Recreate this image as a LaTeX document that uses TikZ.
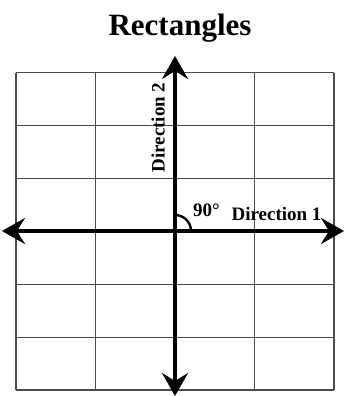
\documentclass[tikz,border=0pt]{standalone}
\usepackage{fontspec}
\setmainfont{Liberation Serif}
\usetikzlibrary{arrows.meta}

\begin{document}
\begin{tikzpicture}[x=1pt,y=1pt,>={Stealth[length=23pt,width=26pt,inset=8pt]}]
\tikzset{gridline/.style={black!70, line width=1.1pt},
  axis/.style={<->, line width=3.2pt},
  lbl/.style={font=\fontsize{19}{21}\selectfont\bfseries, inner sep=0pt}}
\useasboundingbox (0,0) rectangle (345,396);
\node[font=\fontsize{31}{34}\selectfont\bfseries, inner sep=0pt, anchor=base] (title) at (180,360) {Rectangles};
% grid of rectangles
\foreach \i in {0,...,4} \draw[gridline] (16+79.5*\i,6) -- (16+79.5*\i,323.3);
\foreach \j in {0,...,6} \draw[gridline] (16,6+52.9*\j) -- (334,6+52.9*\j);
% the two directions
\coordinate (o) at (175,165);
\coordinate (west) at (2,165);
\coordinate (east) at (344,165);
\coordinate (south) at (175,0);
\coordinate (north) at (175,340);
\draw[axis] (west) -- (east);
\draw[axis] (south) -- (north);
\draw[line width=2.4pt] ([xshift=16pt]o) arc (0:90:16pt);
\node[lbl] (ninety) at (206.5,186) {90°};
\node[lbl] (dirone) at (276.5,182) {Direction 1};
\node[lbl, rotate=90] (dirtwo) at (158,268.5) {Direction 2};
\end{tikzpicture}
\end{document}
